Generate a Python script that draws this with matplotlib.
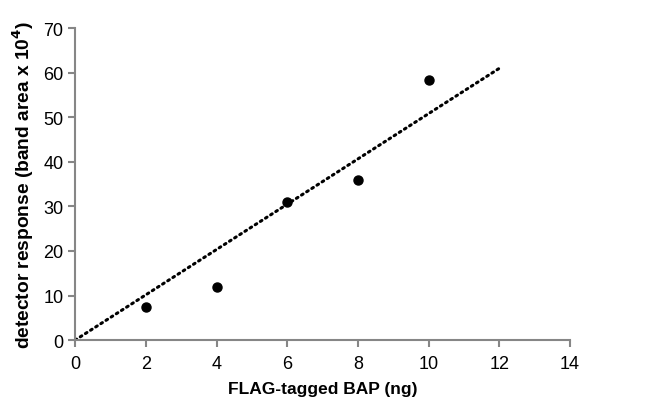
import matplotlib
matplotlib.use("Agg")
import matplotlib.pyplot as plt
import numpy as np

plt.rcParams['font.family'] = ['Liberation Sans', 'DejaVu Sans']

# FLAG-tagged BAP (ng) vs detector response
amount_ng = np.array([2, 4, 6, 8, 10])
response = np.array([7.4, 11.9, 30.9, 35.9, 58.3])
trend_x = np.array([0, 12])

# linear trendline through the origin
slope = np.sum(amount_ng * response) / np.sum(amount_ng ** 2)

fig = plt.figure(figsize=(6.59, 4.10), dpi=100)
ax = fig.add_axes([0.114, 0.168, 0.751, 0.761])

ax.plot(trend_x, slope * trend_x, color='black', linestyle=(0, (0.6, 1.4)),
        linewidth=2.2, dash_capstyle='round', zorder=2)
ax.plot(amount_ng, response, 'o', color='black', markersize=6.5, zorder=3)

ax.set_xlim(0, 14)
ax.set_ylim(0, 70)
ax.set_xticks(np.arange(0, 15, 2))
ax.set_yticks(np.arange(0, 71, 10))

for side in ['top', 'right']:
    ax.spines[side].set_visible(False)
for side in ['left', 'bottom']:
    ax.spines[side].set_color('#868686')
    ax.spines[side].set_linewidth(1.5)
ax.tick_params(axis='both', direction='out', length=5, width=1.5,
               color='#868686', labelsize=13, labelcolor='black')
ax.tick_params(axis='x', pad=6)

fig.text(0.489, 0.051, 'FLAG-tagged BAP (ng)', fontsize=12.5,
         fontweight='bold', ha='center', va='center')
fig.text(0.035, 0.549, r'detector response (band area x 10$^{\mathbf{4}}$)',
         fontsize=13.8, fontweight='bold', rotation=90,
         ha='center', va='center')

fig.savefig('out.png', dpi=100)
